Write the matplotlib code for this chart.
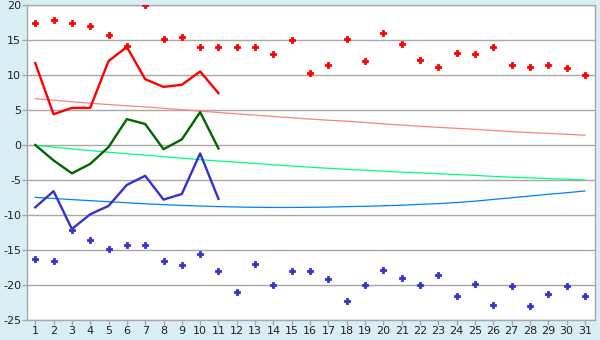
import matplotlib
matplotlib.use("Agg")
import matplotlib.pyplot as plt

plt.rcParams['axes.unicode_minus'] = False

days = list(range(1, 32))

# max markers (red) and min markers (blue)
maxPoints = [17.5, 17.9, 17.4, 17.0, 15.7, 14.2, 20.0, 15.1, 15.5, 14.0,
             14.0, 14.0, 14.0, 13.0, 15.0, 10.3, 11.4, 15.2, 12.0, 16.0,
             14.5, 12.2, 11.2, 13.1, 13.0, 14.0, 11.4, 11.1, 11.4, 10.95, 10.0]
minPoints = [-16.3, -16.6, -12.1, -13.6, -14.8, -14.3, -14.3, -16.5, -17.2, -15.6,
             -18.05, -21.0, -17.0, -20.0, -18.05, -18.05, -19.2, -22.3, -20.0, -17.8,
             -19.0, -20.0, -18.6, -21.6, -19.8, -22.8, -20.2, -23.0, -21.3, -20.2, -21.6]

# lines for days 1..11
lineDays = list(range(1, 12))
redLine = [11.7, 4.4, 5.3, 5.3, 12.0, 14.0, 9.4, 8.3, 8.6, 10.5, 7.4]
greenLine = [0.0, -2.2, -4.05, -2.7, -0.3, 3.7, 3.0, -0.6, 0.8, 4.7, -0.5]
blueLine = [-8.9, -6.6, -12.0, -9.9, -8.7, -5.7, -4.4, -7.8, -7.0, -1.2, -7.7]

# trend lines
redTrend = [6.62, 6.40, 6.18, 5.97, 5.78, 5.60, 5.44, 5.25, 5.05, 4.84,
            4.65, 4.45, 4.27, 4.08, 3.90, 3.70, 3.54, 3.40, 3.22, 3.02,
            2.85, 2.68, 2.52, 2.38, 2.24, 2.07, 1.90, 1.78, 1.67, 1.53, 1.40]
greenTrend = [-0.05, -0.30, -0.55, -0.80, -1.03, -1.25, -1.45, -1.65, -1.88, -2.10,
              -2.28, -2.46, -2.64, -2.82, -3.00, -3.17, -3.33, -3.47, -3.60, -3.75,
              -3.88, -3.98, -4.10, -4.22, -4.34, -4.48, -4.60, -4.70, -4.80, -4.90, -5.0]
blueTrend = [-7.48, -7.64, -7.80, -7.95, -8.10, -8.25, -8.40, -8.52, -8.63, -8.72,
             -8.80, -8.86, -8.90, -8.92, -8.92, -8.90, -8.87, -8.80, -8.76, -8.68,
             -8.60, -8.48, -8.38, -8.22, -8.02, -7.78, -7.54, -7.29, -7.04, -6.82, -6.57]

fig = plt.figure(figsize=(6, 3.4), dpi=100)
fig.patch.set_facecolor('#DAEEF6')
ax = fig.add_axes([27/600, 1-320/340, 568/600, 315/340])
ax.set_facecolor('white')

ax.plot(days, redTrend, '-', color='#FF8080', lw=0.9, zorder=3)
ax.plot(days, greenTrend, '-', color='#00FF80', lw=0.9, zorder=3)
ax.plot(days, blueTrend, '-', color='#0080FF', lw=0.9, zorder=3)

ax.plot(lineDays, redLine, '-', color='#FF0000', lw=1.7, zorder=4)
ax.plot(lineDays, greenLine, '-', color='#006600', lw=1.7, zorder=4)
ax.plot(lineDays, blueLine, '-', color='#3333CC', lw=1.7, zorder=4)

ax.plot(days, maxPoints, 'P', color='#FF0000', mec='#FF0000', ms=3.8, mew=0.6, ls='none', zorder=5)
ax.plot(days, minPoints, 'P', color='#3333CC', mec='#3333CC', ms=3.8, mew=0.6, ls='none', zorder=5)

ax.set_xlim(0.55, 31.55)
ax.set_ylim(-25, 20)
ax.set_xticks(days)
ax.set_yticks(range(-25, 21, 5))
ax.yaxis.grid(True, color='#A8A8A8', lw=1)
ax.set_axisbelow(True)
for s in ax.spines.values():
    s.set_color('#A8A8A8')
    s.set_linewidth(1)
ax.tick_params(axis='both', colors='#A8A8A8', labelcolor='#222222', labelsize=8,
               length=3.6, width=1, pad=0.5)

plt.savefig('out.png', dpi=100, facecolor=fig.get_facecolor())
